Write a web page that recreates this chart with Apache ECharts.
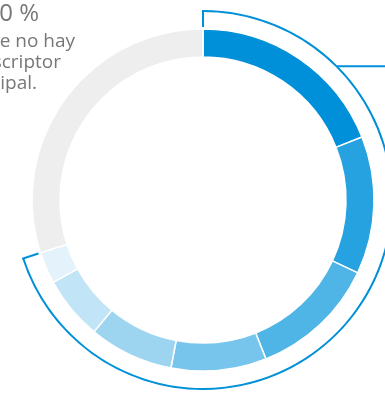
<!DOCTYPE html>
<html>
<head>
<meta charset="utf-8">
<script src="https://cdn.jsdelivr.net/npm/echarts@6/dist/echarts.min.js"></script>
<style>
html, body { margin: 0; padding: 0; background: #fff; }
#chart { width: 385px; height: 394px; }
</style>
</head>
<body>
<div id="chart"></div>
<script>
// valores (porcentajes)
var categories = ['d1', 'd2', 'd3', 'd4', 'd5', 'd6', 'd7', 'sin descriptor']
var values = [19, 13, 12, 9, 8, 6, 3, 30]
var colors = ['#0090d9', '#27a2e0', '#4fb4e6', '#77c5ec', '#9dd5f1', '#c1e4f6', '#e3f2fb', '#eeeeee']
var restLabel = '30 %'
var restText = ['que no hay', 'descriptor', 'principal.']

var cx = 203
var cy = 200
var blue = '#0090d8'

var total = values.reduce(function (a, b) { return a + b }, 0)
var colored = total - values[values.length - 1]

// punto sobre el circulo, angulo en grados desde las 12 en sentido horario
function pt (deg, r) {
  var a = deg * Math.PI / 180
  return [cx + r * Math.sin(a), cy - r * Math.cos(a)]
}

var endDeg = colored / total * 360

var data = categories.map(function (c, i) {
  return { name: c, value: values[i], itemStyle: { color: colors[i] } }
})

var option = {
  animation: false,
  series: [{
    type: 'pie',
    center: [cx, cy],
    radius: [143, 171],
    startAngle: 90,
    clockwise: true,
    silent: true,
    label: { show: false },
    labelLine: { show: false },
    itemStyle: { borderColor: '#fff', borderWidth: 1.5 },
    data: data
  }, {
    // arco que agrupa las categorias con descriptor
    type: 'pie',
    center: [cx, cy],
    radius: [188, 190],
    startAngle: 90,
    clockwise: true,
    silent: true,
    label: { show: false },
    labelLine: { show: false },
    data: [
      { value: colored, itemStyle: { color: blue } },
      { value: total - colored, itemStyle: { color: 'rgba(0,0,0,0)' } }
    ]
  }],
  graphic: [{
    type: 'polyline',
    shape: { points: [pt(0, 190), pt(0, 173)] },
    style: { stroke: blue, lineWidth: 2, fill: null }
  }, {
    type: 'polyline',
    shape: { points: [pt(endDeg, 190), pt(endDeg, 173)] },
    style: { stroke: blue, lineWidth: 2, fill: null }
  }, {
    type: 'polyline',
    shape: { points: [pt(45, 189), [390, pt(45, 189)[1]]] },
    style: { stroke: blue, lineWidth: 2, fill: null }
  }, {
    type: 'text',
    style: {
      x: 39, y: 2, text: restLabel, align: 'right', verticalAlign: 'top',
      font: '24px "Open Sans"', fill: '#777'
    }
  }].concat(restText.map(function (t, i) {
    var ends = [75, 61, 37]
    return {
      type: 'text',
      style: {
        x: ends[i], y: 32 + i * 21, text: t, align: 'right', verticalAlign: 'top',
        font: '19px "Open Sans"', fill: '#777'
      }
    }
  }))
}

var myChart = echarts.init(document.getElementById('chart'))
myChart.setOption(option)
</script>
</body>
</html>
